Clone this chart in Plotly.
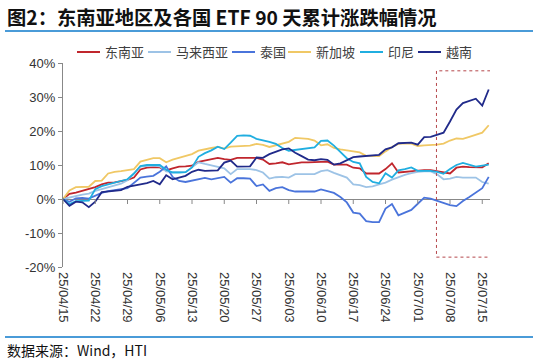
import plotly.graph_objects as go

tick_labels = ["25/04/15", "25/04/22", "25/04/29", "25/05/06", "25/05/13", "25/05/20", "25/05/27",
               "25/06/03", "25/06/10", "25/06/17", "25/06/24", "25/07/01", "25/07/08", "25/07/15"]

sea = [0, 1.5, 1.9, 2.4, 3.0, 3.5, 4.3, 4.8, 4.9, 5.2, 5.6, 6.3, 8.7, 9.2, 9.4, 9.3, 8.4, 9.0, 9.5, 9.6,
       9.8, 10.9, 11.3, 11.6, 12.1, 11.7, 11.5, 12.1, 12.1, 12.1, 12.1, 11.6, 10.3, 10.5, 10.8, 10.2, 10.5,
       10.8, 10.8, 10.8, 10.9, 11.0, 10.1, 10.1, 10.1, 9.2, 9.0, 7.5, 7.5, 7.5, 8.8, 10.5, 7.8, 8.0, 8.1,
       8.3, 8.5, 8.5, 8.2, 7.8, 7.5, 9.2, 9.5, 9.4, 9.3, 9.3, 10.5]
malaysia = [0, 0.5, 1.0, 1.3, 1.6, 2.4, 2.9, 3.4, 3.8, 4.5, 5.5, 7.5, 9.5, 9.7, 9.8, 9.6, 8.1, 7.9, 7.9,
            7.9, 9.3, 10.8, 10.3, 9.8, 9.3, 9.0, 7.3, 8.8, 8.8, 8.8, 8.5, 7.8, 6.0, 6.4, 6.5, 6.3, 7.3,
            7.3, 7.3, 7.3, 8.2, 8.5, 7.7, 7.0, 6.3, 4.3, 4.1, 3.5, 3.7, 4.3, 4.8, 5.7, 6.5, 7.1, 7.6,
            8.0, 8.1, 8.1, 7.3, 5.8, 6.0, 6.5, 6.3, 6.3, 6.3, 5.0, 4.5]
thailand = [0, -0.8, 0.2, 0.3, 0.1, 1.0, 1.8, 2.3, 2.5, 2.9, 3.2, 4.8, 6.3, 6.6, 6.8, 8.0, 9.6, 6.5, 5.3,
            5.0, 5.4, 6.0, 6.2, 5.8, 6.1, 6.5, 4.8, 6.1, 6.1, 6.0, 3.8, 4.3, 2.4, 3.2, 3.5, 2.6, 2.2,
            2.2, 2.2, 2.2, 2.8, 2.2, 1.8, 0.6, -1.0, -4.0, -4.3, -6.5, -6.8, -6.8, -2.8, -1.5, -4.8,
            -4.0, -3.2, -1.4, 0.4, 0.1, -0.5, -1.3, -1.8, -2.1, -0.6, 0.6, 1.8, 3.2, 6.5]
singapore = [0, 2.5, 3.5, 3.5, 3.6, 5.3, 5.4, 7.5, 8.0, 8.2, 8.5, 8.8, 11.0, 11.6, 12.0, 12.0, 10.8,
             11.6, 12.2, 12.6, 13.2, 14.2, 14.7, 15.0, 15.3, 14.8, 15.4, 15.5, 15.6, 15.7, 16.2, 15.9,
             15.3, 15.8, 16.5, 16.8, 18.0, 17.9, 17.7, 17.2, 15.8, 16.1, 15.0, 14.6, 14.3, 14.0, 13.7,
             12.7, 12.6, 12.6, 14.0, 15.3, 16.2, 16.4, 16.3, 15.6, 15.8, 15.8, 16.0, 16.3, 17.2, 17.8,
             17.7, 18.3, 18.8, 19.5, 21.7]
indonesia = [0, -1.5, -0.6, -0.5, -0.5, 2.9, 3.8, 4.3, 4.8, 5.1, 5.8, 7.5, 9.7, 10.0, 10.0, 10.0, 8.6,
             7.8, 7.8, 7.9, 9.3, 12.4, 13.5, 14.3, 15.4, 14.7, 16.6, 18.6, 18.7, 18.6, 17.7, 17.3, 16.8,
             16.2, 15.0, 14.2, 14.4, 14.7, 14.9, 15.2, 17.1, 17.2, 15.7, 13.7, 12.0, 10.9, 10.5, 6.5,
             5.0, 4.6, 7.6, 6.3, 8.4, 8.8, 9.3, 8.3, 8.3, 8.3, 8.0, 7.4, 8.8, 10.0, 10.6, 10.0, 9.5,
             9.8, 10.1]
vietnam = [0, -2.0, -0.8, -1.0, -2.4, -0.8, 2.0, 2.2, 2.3, 2.6, 3.6, 3.9, 4.3, 4.7, 5.3, 4.3, 7.0, 5.8,
           6.3, 6.8, 8.0, 8.6, 8.3, 8.3, 8.4, 10.7, 11.3, 9.5, 9.5, 9.6, 12.2, 12.1, 13.2, 13.8, 14.6,
           14.9, 13.6, 12.6, 11.6, 11.4, 11.7, 11.5, 10.1, 10.5, 11.3, 12.3, 12.5, 12.6, 12.8, 13.0,
           14.6, 15.2, 16.4, 16.5, 16.6, 16.0, 18.2, 18.3, 18.9, 19.5, 22.8, 26.3, 28.2, 28.8, 29.5,
           27.5, 32.2]

series_names = ["东南亚", "马来西亚", "泰国", "新加坡", "印尼", "越南"]
series_values = [sea, malaysia, thailand, singapore, indonesia, vietnam]
colors = ["#C0262D", "#9DC3E6", "#4A74DB", "#F0C865", "#20AEE0", "#202A8A"]

x = list(range(len(sea)))
tickvals = list(range(0, 5 * len(tick_labels), 5))

fig = go.Figure()
for name, vals, col in zip(series_names, series_values, colors):
    fig.add_trace(go.Scatter(x=x, y=vals, mode="lines", name=name,
                             line=dict(color=col, width=1.8), showlegend=False,
                             hoverinfo="skip"))

# plot area: left 63, right 490, top 63, bottom 267 (px)
PL, PR, PT, PB = 63, 490, 63, 267
PW, PH = PR - PL, PB - PT


def px_x(px):
    return (px - PL) / PW


def px_y(py):
    return (PB - py) / PH


shapes = []
annotations = []
for tv in tickvals:
    shapes.append(dict(type="line", xref="x", yref="y", x0=tv, x1=tv, y0=-5, y1=0,
                       ysizemode="pixel", yanchor=0, line=dict(color="#888888", width=1)))
# highlight box
shapes.append(dict(type="rect", xref="x", yref="y", x0=57.9, x1=66.7, y0=-17.1, y1=37.7,
                   line=dict(color="#B5474B", width=1, dash="dot"), fillcolor="rgba(0,0,0,0)"))
# separator lines
for py in (31, 337):
    shapes.append(dict(type="line", xref="paper", yref="paper", x0=px_x(5), x1=px_x(533),
                       y0=px_y(py), y1=px_y(py), line=dict(color="#4A9BD8", width=2)))

# legend (drawn manually in one row)
legend_x = [77, 148, 232, 288, 360, 418]
LEG_Y = 52
for name, col, lx in zip(series_names, colors, legend_x):
    shapes.append(dict(type="line", xref="paper", yref="paper", x0=px_x(lx), x1=px_x(lx + 23),
                       y0=px_y(LEG_Y), y1=px_y(LEG_Y), line=dict(color=col, width=2)))
    annotations.append(dict(text=name, xref="paper", yref="paper", x=px_x(lx + 26), y=px_y(LEG_Y),
                            xanchor="left", yanchor="middle", showarrow=False,
                            font=dict(family="Noto Sans CJK SC", size=13, color="#404040")))

annotations.append(dict(text="<b>图2：东南亚地区及各国 ETF 90 天累计涨跌幅情况</b>", xref="paper", yref="paper",
                        x=px_x(5), y=px_y(17), xanchor="left", yanchor="middle", showarrow=False,
                        font=dict(family="Noto Sans CJK SC", size=19.3, color="#111111")))
annotations.append(dict(text="数据来源：Wind，HTI", xref="paper", yref="paper",
                        x=px_x(5), y=px_y(350), xanchor="left", yanchor="middle", showarrow=False,
                        font=dict(family="Noto Sans CJK SC", size=14, color="#111111")))

fig.update_layout(
    width=538, height=364,
    margin=dict(l=PL, r=538 - PR, t=PT, b=364 - PB, pad=0, autoexpand=False),
    paper_bgcolor="white", plot_bgcolor="white",
    font=dict(family="Liberation Sans, Arial", size=12, color="#333333"),
    showlegend=False,
    hovermode=False,
    xaxis=dict(range=[0, 66.2], tickmode="array", tickvals=tickvals, ticktext=tick_labels,
               tickangle=90, showgrid=False, showline=False, ticks="", zeroline=False,
               ticklabelstandoff=4,
               automargin=False, tickfont=dict(size=13, color="#333333")),
    yaxis=dict(range=[-20, 40],
               tickvals=[-20, -10, 0, 10, 20, 30, 40],
               ticktext=["-20%", "-10%", "0%", "10%", "20%", "30%", "40%"],
               showgrid=False, showline=True, linecolor="#888888", linewidth=1,
               ticks="outside", ticklen=4, tickcolor="#888888",
               zeroline=True, zerolinecolor="#888888", zerolinewidth=1,
               automargin=False, tickfont=dict(size=13, color="#333333")),
    shapes=shapes,
    annotations=annotations,
)

fig.write_html("out.html", config={"displayModeBar": False, "staticPlot": True},
               post_script="document.body.style.margin='0px';document.body.style.overflow='hidden';")
